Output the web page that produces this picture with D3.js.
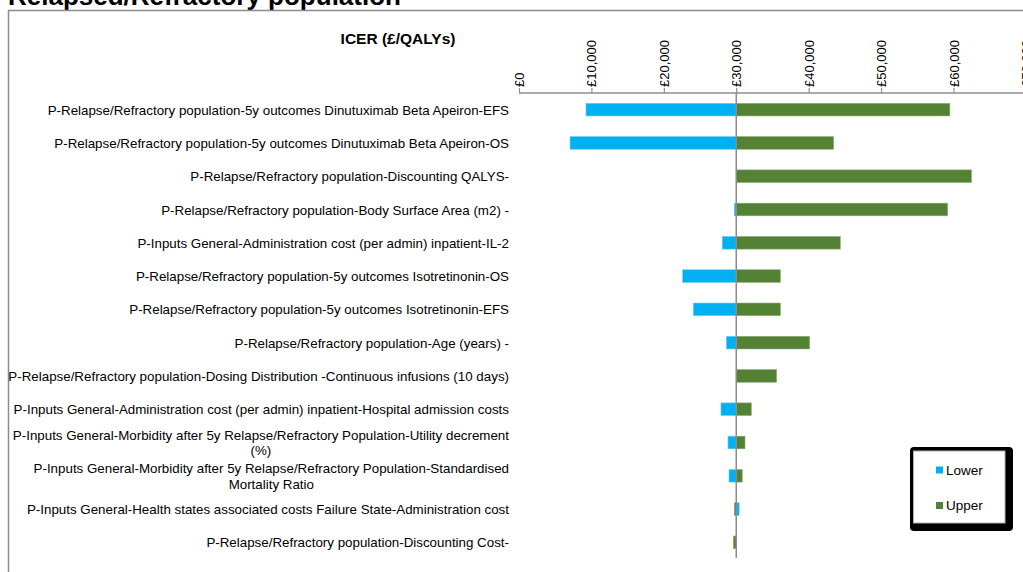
<!DOCTYPE html>
<html>
<head>
<meta charset="utf-8">
<script src="https://cdn.jsdelivr.net/npm/d3@7"></script>
<style>
  html, body { margin: 0; padding: 0; background: #fff; }
  svg { display: block; font-family: "Liberation Sans", Arial, sans-serif; }
</style>
</head>
<body>
<svg id="chart" width="1023" height="572"></svg>
<script>
// One-way sensitivity analysis (tornado) around the base-case ICER
const categories = [
  "P-Relapse/Refractory population-5y outcomes Dinutuximab Beta Apeiron-EFS",
  "P-Relapse/Refractory population-5y outcomes Dinutuximab Beta Apeiron-OS",
  "P-Relapse/Refractory population-Discounting QALYS-",
  "P-Relapse/Refractory population-Body Surface Area (m2) -",
  "P-Inputs General-Administration cost (per admin) inpatient-IL-2",
  "P-Relapse/Refractory population-5y outcomes Isotretinonin-OS",
  "P-Relapse/Refractory population-5y outcomes Isotretinonin-EFS",
  "P-Relapse/Refractory population-Age (years) -",
  "P-Relapse/Refractory population-Dosing Distribution -Continuous infusions (10 days)",
  "P-Inputs General-Administration cost (per admin) inpatient-Hospital admission costs",
  "P-Inputs General-Morbidity after 5y Relapse/Refractory Population-Utility decrement\n(%)",
  "P-Inputs General-Morbidity after 5y Relapse/Refractory Population-Standardised\nMortality Ratio",
  "P-Inputs General-Health states associated costs Failure State-Administration cost",
  "P-Relapse/Refractory population-Discounting Cost-"
];
const lowerValues = [9250, 7050, 30000, 29730, 28070, 22600, 24070, 28630, 30000, 27890, 28860, 29000, 30400, 30000];
const upperValues = [59500, 43450, 62500, 59200, 44370, 36100, 36100, 40140, 35580, 32080, 31210, 30830, 29730, 29600];
const baseIcer = 30000;
const tickValues = [0, 10000, 20000, 30000, 40000, 50000, 60000, 70000];
const seriesNames = ["Lower", "Upper"];

const colors = { Lower: "#00B0F0", Upper: "#548235" };

const svg = d3.select("#chart");

// Page title (partly above the visible area) and frame
svg.append("text")
  .attr("x", 8).attr("y", 5)
  .attr("font-size", 26).attr("font-weight", "bold")
  .attr("fill", "#000")
  .text("Relapsed/Refractory population");

svg.append("path")
  .attr("d", "M8.5,572 V10.5 H1023")
  .attr("fill", "none").attr("stroke", "#8c8c8c").attr("stroke-width", 1.5);

svg.append("text")
  .attr("x", 398).attr("y", 44)
  .attr("text-anchor", "middle")
  .attr("font-size", 15.5).attr("font-weight", "bold")
  .text("ICER (£/QALYs)");

// Scales
const x = d3.scaleLinear().domain([0, 70000]).range([519, 1025.9]);
const y = d3.scaleBand().domain(categories).range([93, 559]).paddingInner(0.62).paddingOuter(0.31);

// Top axis with rotated tick labels
const axis = d3.axisTop(x)
  .tickValues(tickValues)
  .tickSize(5)
  .tickSizeOuter(0)
  .tickFormat(d => "£" + d3.format(",")(d));

const gAxis = svg.append("g").attr("transform", "translate(0,93)").call(axis);
gAxis.select(".domain").attr("stroke", "#8c8c8c").attr("stroke-width", 1.5).attr("d", "M519,0 H1023");
gAxis.selectAll(".tick line").attr("stroke", "#8c8c8c").attr("stroke-width", 1.2);
gAxis.selectAll(".tick text")
  .attr("font-family", "Liberation Sans, Arial, sans-serif")
  .attr("font-size", 13)
  .attr("fill", "#000")
  .attr("text-anchor", "start")
  .attr("transform", "rotate(-90)")
  .attr("x", 6)
  .attr("y", 0)
  .attr("dy", "0.35em");

// Bars drawn from the base-case value
const rows = categories.map((c, i) => ({ cat: c, Lower: lowerValues[i], Upper: upperValues[i] }));

seriesNames.forEach(s => {
  svg.append("g").selectAll("rect")
    .data(rows)
    .join("rect")
    .attr("x", d => Math.min(x(baseIcer), x(d[s])))
    .attr("width", d => Math.abs(x(d[s]) - x(baseIcer)))
    .attr("y", d => y(d.cat))
    .attr("height", y.bandwidth())
    .attr("fill", colors[s])
    .attr("stroke", s === "Lower" ? "#66d0f5" : "#8fae7c")
    .attr("stroke-width", 0.6);
});

// Base-case reference line
svg.append("line")
  .attr("x1", x(baseIcer)).attr("x2", x(baseIcer))
  .attr("y1", 93).attr("y2", 558)
  .attr("stroke", "#8c8c8c").attr("stroke-width", 1.5);

// Category labels: right-aligned block, wrapped lines centred within it
const labelRight = 509;
const labels = svg.append("g").attr("font-size", 13.35).attr("fill", "#000");
rows.forEach(d => {
  const lines = d.cat.split("\n");
  const cy = y(d.cat) + y.bandwidth() / 2;
  const t = labels.append("text").attr("dominant-baseline", "central");
  const spans = lines.map((ln, k) =>
    t.append("tspan").attr("y", cy + (k - (lines.length - 1) / 2) * 15.5).text(ln));
  const widths = spans.map(sp => sp.node().getComputedTextLength());
  const maxW = d3.max(widths);
  spans.forEach(sp => {
    sp.attr("x", labelRight - maxW / 2).attr("text-anchor", "middle");
  });
});

// Legend
const lg = svg.append("g");
lg.append("rect").attr("x", 910).attr("y", 447).attr("width", 103).attr("height", 84)
  .attr("rx", 4).attr("fill", "#000");
lg.append("rect").attr("x", 913.5).attr("y", 451).attr("width", 91.5).attr("height", 72)
  .attr("fill", "#fff").attr("stroke", "#b0b0b0").attr("stroke-width", 1);
seriesNames.forEach((s, i) => {
  const yy = 470 + i * 35.5;
  lg.append("rect").attr("x", 936).attr("y", yy - 3.5).attr("width", 7).attr("height", 7).attr("fill", colors[s]);
  lg.append("text").attr("x", 946).attr("y", yy).attr("dominant-baseline", "central")
    .attr("font-size", 13.5).attr("fill", "#000").text(s);
});
</script>
</body>
</html>
